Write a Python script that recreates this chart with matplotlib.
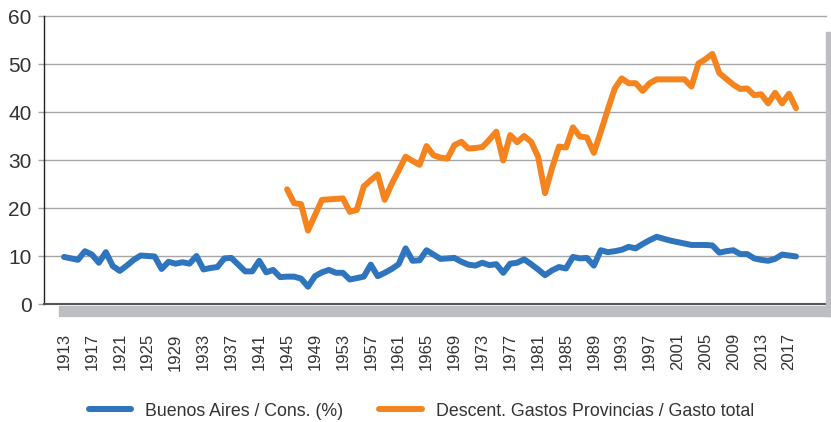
import matplotlib.pyplot as plt
from matplotlib.patches import Rectangle
import numpy as np

plt.rcParams['font.family'] = ['Liberation Sans', 'DejaVu Sans']

# Buenos Aires / Cons. (%) 1913-2018
years_ba = np.arange(1913, 2019)
buenos_aires = [
    9.8, 9.5, 9.2, 11.0, 10.3, 8.6, 10.8, 7.9, 6.9, 8.0,      # 1913-1922
    9.2, 10.1, 10.0, 9.9, 7.3, 8.8, 8.4, 8.7, 8.4, 10.0,      # 1923-1932
    7.2, 7.5, 7.7, 9.5, 9.6, 8.2, 6.8, 6.8, 9.0, 6.6,         # 1933-1942
    7.1, 5.6, 5.7, 5.7, 5.3, 3.6, 5.8, 6.6, 7.1, 6.5,         # 1943-1952
    6.5, 5.1, 5.4, 5.7, 8.2, 5.8, 6.5, 7.3, 8.3, 11.6,        # 1953-1962
    9.0, 9.1, 11.2, 10.3, 9.4, 9.5, 9.6, 8.8, 8.2, 8.0,       # 1963-1972
    8.6, 8.1, 8.3, 6.5, 8.4, 8.6, 9.3, 8.3, 7.2, 6.0,         # 1973-1982
    7.0, 7.7, 7.4, 9.8, 9.5, 9.6, 8.0, 11.2, 10.8, 11.0,      # 1983-1992
    11.3, 11.9, 11.6, 12.5, 13.3, 14.0, 13.6, 13.2, 12.9, 12.6,  # 1993-2002
    12.3, 12.3, 12.3, 12.2, 10.7, 11.0, 11.2, 10.4, 10.4, 9.5,   # 2003-2012
    9.2, 9.0, 9.4, 10.3, 10.1, 9.9,                            # 2013-2018
]

# Descent. Gastos Provincias / Gasto total 1945-2018
years_dg = np.arange(1945, 2019)
descent = [
    23.9, 21.0, 20.8, 15.3, 18.5, 21.7, 21.8, 21.9, 22.0, 19.2,   # 1945-1954
    19.6, 24.5, 25.8, 27.0, 21.7, 25.0, 27.8, 30.7, 29.8, 29.0,   # 1955-1964
    32.9, 31.0, 30.5, 30.3, 33.1, 33.8, 32.4, 32.5, 32.7, 34.2,   # 1965-1974
    35.9, 29.9, 35.2, 33.7, 35.0, 33.8, 30.7, 23.1, 28.3, 32.8,   # 1975-1984
    32.6, 36.8, 34.9, 34.7, 31.5, 35.9, 40.5, 44.9, 47.0, 46.0,   # 1985-1994
    46.0, 44.4, 46.0, 46.8, 46.8, 46.8, 46.8, 46.8, 45.3, 50.1,   # 1995-2004
    51.0, 52.1, 48.1, 46.9, 45.7, 44.8, 44.9, 43.5, 43.7, 41.8,   # 2005-2014
    44.0, 41.8, 43.8, 40.8,                                       # 2015-2018
]

tick_years = list(range(1913, 2018, 4))
y_ticks = [0, 10, 20, 30, 40, 50, 60]

fig = plt.figure(figsize=(8.31, 4.22), dpi=100)
ax = fig.add_axes([44 / 831, 118 / 422, 782 / 831, 288 / 422])

# sombra gris del área de gráfico
shadow = '#BDBEC2'
fig.patches.append(Rectangle((59 / 831, (422 - 316) / 422), (831 - 59) / 831, 10 / 422,
                             transform=fig.transFigure, color=shadow, zorder=0))
fig.patches.append(Rectangle((826 / 831, (422 - 316) / 422), 5 / 831, 284 / 422,
                             transform=fig.transFigure, color=shadow, zorder=0))

blue = '#2E75BD'
orange = '#F5841F'
ax.plot(years_ba, buenos_aires, color=blue, linewidth=4.3, solid_joinstyle='round',
        solid_capstyle='round', label='Buenos Aires / Cons. (%)', zorder=3)
ax.plot(years_dg, descent, color=orange, linewidth=4.3, solid_joinstyle='round',
        solid_capstyle='round', label='Descent. Gastos Provincias / Gasto total', zorder=3)

ax.set_xlim(1910.13, 2022.3)
ax.set_ylim(0, 60)
ax.set_yticks(y_ticks)
ax.set_xticks(tick_years)
ax.set_xticklabels([str(y) for y in tick_years], rotation=90, fontsize=12, color='#333333')
ax.tick_params(axis='x', length=0, pad=21)
ax.tick_params(axis='y', length=4, width=1, color='#A6A6A6', labelsize=15,
               labelcolor='#333333', pad=5)

for v in y_ticks[1:]:
    ax.axhline(v, color='#A6A6A6', linewidth=1, zorder=1, clip_on=False)

for side in ['top', 'right']:
    ax.spines[side].set_visible(False)
ax.spines['left'].set_color('#222222')
ax.spines['left'].set_linewidth(1)
ax.spines['bottom'].set_color('#555555')
ax.spines['bottom'].set_linewidth(1.5)
ax.set_facecolor('white')
ax.patch.set_zorder(0.5)

fig.legend(loc='center', bbox_to_anchor=(0.507, 11 / 422), ncol=2, frameon=False,
           fontsize=12.8, handlelength=2.4, handletextpad=0.78, columnspacing=2.0,
           labelcolor='#333333')

fig.savefig('out.png', dpi=100)
